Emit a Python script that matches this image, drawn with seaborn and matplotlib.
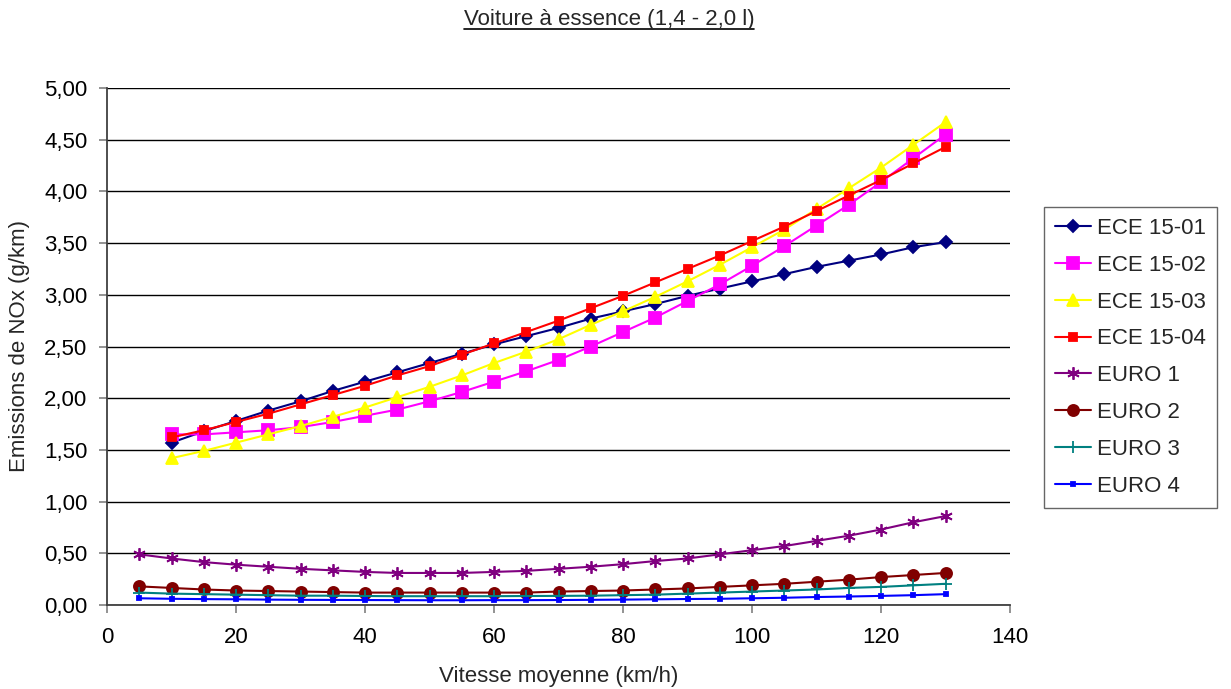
import numpy as np
import pandas as pd
import matplotlib
matplotlib.use("Agg")
import matplotlib.pyplot as plt
import seaborn as sns
from matplotlib.ticker import FuncFormatter, MultipleLocator

speed_ece = [10, 15, 20, 25, 30, 35, 40, 45, 50, 55, 60, 65, 70, 75, 80, 85, 90, 95, 100, 105, 110, 115, 120, 125, 130]
speed_euro = [5] + speed_ece

ece_15_01 = [1.57, 1.68, 1.78, 1.88, 1.97, 2.07, 2.16, 2.25, 2.34, 2.43, 2.52, 2.60, 2.68, 2.77, 2.84, 2.91, 2.99, 3.06, 3.13, 3.20, 3.27, 3.33, 3.39, 3.46, 3.51]
ece_15_02 = [1.65, 1.65, 1.67, 1.69, 1.72, 1.77, 1.83, 1.89, 1.97, 2.06, 2.16, 2.26, 2.37, 2.50, 2.64, 2.78, 2.94, 3.10, 3.28, 3.47, 3.67, 3.87, 4.09, 4.32, 4.55]
ece_15_03 = [1.42, 1.49, 1.57, 1.65, 1.73, 1.82, 1.91, 2.01, 2.11, 2.22, 2.34, 2.45, 2.57, 2.71, 2.84, 2.98, 3.13, 3.29, 3.46, 3.63, 3.83, 4.03, 4.23, 4.45, 4.67]
ece_15_04 = [1.62, 1.69, 1.77, 1.85, 1.94, 2.03, 2.12, 2.22, 2.31, 2.42, 2.53, 2.64, 2.75, 2.87, 2.99, 3.12, 3.25, 3.38, 3.52, 3.66, 3.81, 3.96, 4.11, 4.27, 4.43]
euro_1 = [0.49, 0.45, 0.415, 0.39, 0.37, 0.35, 0.335, 0.32, 0.31, 0.31, 0.31, 0.32, 0.33, 0.35, 0.37, 0.395, 0.425, 0.45, 0.49, 0.53, 0.57, 0.62, 0.67, 0.73, 0.80, 0.86]
euro_2 = [0.18, 0.165, 0.15, 0.14, 0.135, 0.13, 0.125, 0.12, 0.12, 0.12, 0.12, 0.12, 0.12, 0.13, 0.135, 0.14, 0.15, 0.16, 0.175, 0.19, 0.205, 0.225, 0.245, 0.27, 0.29, 0.31]
euro_3 = [0.12, 0.11, 0.105, 0.10, 0.095, 0.09, 0.09, 0.087, 0.085, 0.085, 0.085, 0.085, 0.087, 0.088, 0.09, 0.095, 0.10, 0.11, 0.12, 0.13, 0.14, 0.15, 0.165, 0.175, 0.19, 0.205]
euro_4 = [0.065, 0.06, 0.057, 0.055, 0.052, 0.05, 0.049, 0.048, 0.047, 0.046, 0.046, 0.047, 0.047, 0.048, 0.05, 0.052, 0.055, 0.058, 0.06, 0.065, 0.07, 0.077, 0.082, 0.088, 0.095, 0.105]

series_names = ["ECE 15-01", "ECE 15-02", "ECE 15-03", "ECE 15-04", "EURO 1", "EURO 2", "EURO 3", "EURO 4"]
series_values = [ece_15_01, ece_15_02, ece_15_03, ece_15_04, euro_1, euro_2, euro_3, euro_4]
series_x = [speed_ece] * 4 + [speed_euro] * 4

title_text = "Voiture à essence (1,4 - 2,0 l)"
xlabel_text = "Vitesse moyenne (km/h)"
ylabel_text = "Emissions de NOx (g/km)"

styles = {
    "ECE 15-01": dict(color="#000080", marker="D", ms=6.5),
    "ECE 15-02": dict(color="#FF00FF", marker="s", ms=8.5),
    "ECE 15-03": dict(color="#FFFF00", marker="^", ms=9),
    "ECE 15-04": dict(color="#FF0000", marker="s", ms=5.5),
    "EURO 1": dict(color="#800080", marker=(6, 2, 0), ms=9),
    "EURO 2": dict(color="#800000", marker="o", ms=8),
    "EURO 3": dict(color="#008080", marker="+", ms=9),
    "EURO 4": dict(color="#0000FF", marker="s", ms=3.5),
}

FS = 16

sns.set_theme(style="white")
plt.rcParams["font.family"] = ["Liberation Sans", "DejaVu Sans"]

fig = plt.figure(figsize=(12.31, 6.89), dpi=100)
ax = fig.add_axes([107 / 1231, 1 - 605 / 689, (1010 - 107) / 1231, (605 - 88) / 689])

for name, xs, ys in zip(series_names, series_x, series_values):
    st = styles[name]
    df = pd.DataFrame({"v": xs, "e": ys})
    sns.lineplot(data=df, x="v", y="e", ax=ax, color=st["color"], marker=st["marker"],
                 markersize=st["ms"], markeredgecolor=st["color"], markeredgewidth=1.3,
                 linewidth=1.5, label=name)

ax.set_xlim(0, 140)
ax.set_ylim(0, 5)
ax.xaxis.set_major_locator(MultipleLocator(20))
ax.yaxis.set_major_locator(MultipleLocator(0.5))
ax.yaxis.set_major_formatter(FuncFormatter(lambda v, p: f"{v:.2f}".replace(".", ",")))
ax.grid(axis="y", color="black", linewidth=1.0)
ax.grid(axis="x", visible=False)
ax.set_axisbelow(True)
for s in ["top", "right"]:
    ax.spines[s].set_visible(False)
for s in ["left", "bottom"]:
    ax.spines[s].set_color("#404040")
    ax.spines[s].set_linewidth(1.3)
ax.tick_params(axis="both", which="major", direction="out", length=6, width=1.2,
               color="#808080", labelsize=FS, labelcolor="black", bottom=True, left=True)
ax.tick_params(axis="y", pad=8)
ax.tick_params(axis="x", pad=10)
ax.set_xlabel(xlabel_text, fontsize=FS, labelpad=13)
ax.set_ylabel(ylabel_text, fontsize=FS, labelpad=10)

leg = ax.legend(loc="upper left", bbox_to_anchor=(1044 / 1231, 1 - 207 / 689),
                bbox_transform=fig.transFigure, fontsize=FS, frameon=True,
                fancybox=False, edgecolor="#404040", borderpad=0.5, labelspacing=0.71,
                handlelength=1.6, handletextpad=0.3, borderaxespad=0)
leg.get_frame().set_linewidth(1.0)

t = fig.text(609 / 1231, 1 - 20 / 689, title_text, ha="center", va="center", fontsize=FS)
fig.canvas.draw()
bb = t.get_window_extent(renderer=fig.canvas.get_renderer())
bbf = bb.transformed(fig.transFigure.inverted())
fig.add_artist(plt.Line2D([bbf.x0, bbf.x1], [bbf.y0 + 0.002, bbf.y0 + 0.002],
                          transform=fig.transFigure, color="black", linewidth=1.2))

fig.savefig("out.png", dpi=100)
